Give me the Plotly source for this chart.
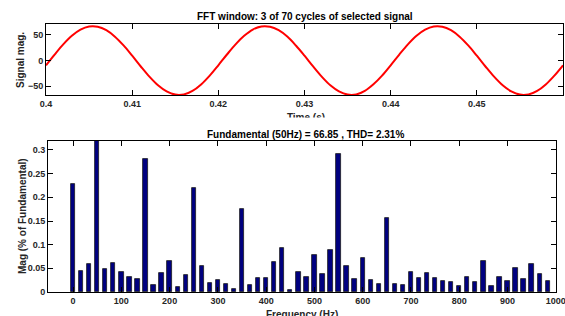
import plotly.graph_objects as go

# ---- data ----
time_s = [round(0.400 + 0.001 * k, 3) for k in range(61)]
signal_mag = [
    -9.3, 11.6, 31.4, 48.1, 60.1, 66.2, 65.8, 59.0, 46.4, 29.3,
    9.3, -11.6, -31.4, -48.1, -60.1, -66.2, -65.8, -59.0, -46.4, -29.3,
    -9.2, 11.7, 31.5, 48.0, 60.2, 66.3, 65.7, 58.9, 46.5, 29.2,
    9.4, -11.5, -31.3, -48.2, -60.0, -66.1, -65.9, -59.1, -46.3, -29.4,
    -9.3, 11.6, 31.4, 48.1, 60.1, 66.2, 65.8, 59.0, 46.4, 29.3,
    9.3, -11.6, -31.4, -48.1, -60.1, -66.2, -65.8, -59.0, -46.4, -29.3,
    -9.3,
]

freq_hz = [round(k * 50 / 3, 2) for k in range(60)]
mag_pct = [
    0.229, 0.045, 0.060, 100.0, 0.049, 0.062, 0.043, 0.0325, 0.0275, 0.282,
    0.0155, 0.0395, 0.0657, 0.010, 0.036, 0.220, 0.0544, 0.0191, 0.0254, 0.017,
    0.0064, 0.176, 0.0141, 0.0297, 0.0304, 0.0636, 0.094, 0.0042, 0.0417, 0.031,
    0.0790, 0.038, 0.089, 0.2915, 0.0558, 0.028, 0.0710, 0.026, 0.016, 0.157,
    0.0177, 0.0155, 0.0417, 0.030, 0.040, 0.029, 0.0226, 0.0212, 0.012, 0.0318,
    0.0219, 0.0657, 0.012, 0.0318, 0.024, 0.050, 0.0268, 0.0593, 0.0388, 0.0226,
]

top_xticks = [0.40, 0.41, 0.42, 0.43, 0.44, 0.45]
top_xlabels = ["0.4", "0.41", "0.42", "0.43", "0.44", "0.45"]
top_yticks = [-50, 0, 50]
bot_xticks = list(range(0, 1001, 100))
bot_yticks = [0, 0.05, 0.1, 0.15, 0.2, 0.25, 0.3]
bot_ylabels = ["0", "0.05", "0.1", "0.15", "0.2", "0.25", "0.3"]

title_top = "FFT window: 3 of 70 cycles of selected signal"
title_bot = "Fundamental (50Hz) = 66.85 , THD= 2.31%"

W, H = 565, 316
FONT = "Liberation Sans"
tickfont = dict(family=FONT, size=9, color="#262626", weight="bold")


def px_x(p):
    return p / W


def px_y(p):
    return 1 - p / H


fig = go.Figure()

fig.add_trace(go.Scatter(
    x=time_s, y=signal_mag, mode="lines", line=dict(color="#ff0000", width=2, shape="spline"),
    xaxis="x", yaxis="y", showlegend=False, hoverinfo="skip",
))

fig.add_trace(go.Bar(
    x=freq_hz, y=mag_pct, width=9,
    marker=dict(color="#000080", line=dict(color="#1a1a1a", width=0.8)),
    xaxis="x2", yaxis="y2", showlegend=False, hoverinfo="skip",
))

# partially hidden "Time (s)" label (its lower part is covered below)
fig.add_trace(go.Scatter(
    x=[px_x(306)], y=[0.5], mode="text", text=["Time (s)"], textposition="bottom center",
    textfont=dict(family=FONT, size=10, color="#262626", weight="bold"),
    cliponaxis=False, xaxis="x3", yaxis="y3", showlegend=False, hoverinfo="skip",
))

axis_common = dict(
    showline=True, linecolor="black", linewidth=1, mirror="ticks",
    ticks="inside", ticklen=5, tickcolor="black", tickwidth=1,
    showgrid=False, zeroline=False, tickfont=tickfont,
)

fig.update_layout(
    width=W, height=H,
    margin=dict(l=0, r=0, t=0, b=0, autoexpand=False),
    paper_bgcolor="white", plot_bgcolor="white",
    bargap=0,
    xaxis=dict(domain=[px_x(46), px_x(563)], range=[0.4, 0.46], anchor="y",
               tickvals=top_xticks, ticktext=top_xlabels, **axis_common),
    yaxis=dict(domain=[px_y(95), px_y(24)], range=[-67, 71], anchor="x",
               tickvals=top_yticks, **axis_common),
    xaxis2=dict(domain=[px_x(48), px_x(556)], range=[-52, 1000.5], anchor="y2",
                tickvals=bot_xticks, ticklabeloverflow="allow", **axis_common),
    yaxis2=dict(domain=[px_y(292), px_y(141)], range=[0, 0.319], anchor="x2",
                tickvals=bot_yticks, ticktext=bot_ylabels, **axis_common),
    xaxis3=dict(domain=[0, 1], range=[0, 1], anchor="y3", visible=False, fixedrange=True),
    yaxis3=dict(domain=[px_y(114), px_y(112)], range=[0, 1], anchor="x3", visible=False, fixedrange=True),
    shapes=[
        dict(type="rect", xref="paper", yref="paper", layer="above",
             x0=px_x(270), x1=px_x(345), y0=px_y(128), y1=px_y(117.5),
             fillcolor="white", line=dict(width=0)),
    ],
    annotations=[
        dict(text=title_top, x=px_x(305), y=px_y(16), xref="paper", yref="paper",
             showarrow=False, xanchor="center", yanchor="middle",
             font=dict(family=FONT, size=10, color="black", weight="bold")),
        dict(text=title_bot, x=px_x(305), y=px_y(134), xref="paper", yref="paper",
             showarrow=False, xanchor="center", yanchor="middle",
             font=dict(family=FONT, size=10, color="black", weight="bold")),
        dict(text="Signal mag.", x=px_x(20), y=px_y(60), xref="paper", yref="paper",
             showarrow=False, textangle=-90, xanchor="center", yanchor="middle",
             font=dict(family=FONT, size=10, color="#262626", weight="bold")),
        dict(text="Mag (% of Fundamental)", x=px_x(22), y=px_y(216), xref="paper", yref="paper",
             showarrow=False, textangle=-90, xanchor="center", yanchor="middle",
             font=dict(family=FONT, size=10, color="#262626", weight="bold")),
        dict(text="Frequency (Hz)", x=px_x(302), y=px_y(314), xref="paper", yref="paper",
             showarrow=False, xanchor="center", yanchor="middle",
             font=dict(family=FONT, size=10, color="#262626", weight="bold")),
    ],
)

fig.write_html(
    "out.html",
    config={"displayModeBar": False},
    post_script="document.body.style.margin='0';document.body.style.overflow='hidden';",
)
